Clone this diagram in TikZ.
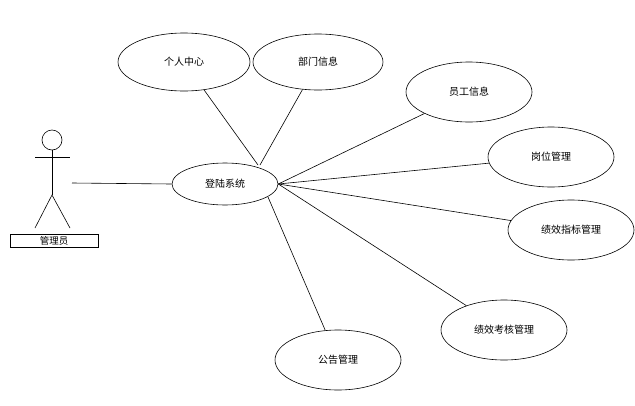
\documentclass[tikz,border=0pt]{standalone}
\usetikzlibrary{shapes.geometric}
\usepackage{fontspec}
\setmainfont{Noto Sans CJK SC}
\begin{document}
\begin{tikzpicture}[x=1pt,y=-1pt,
  uc/.style={draw,ellipse,minimum width=2*#1,minimum height=60pt,inner sep=0pt,font=\fontsize{10pt}{12pt}\selectfont},
  uc/.default=63pt, every path/.style={line width=0.6pt}]
\useasboundingbox (0,0) rectangle (635,405);
\node[uc=66pt,minimum height=58pt] (a) at (184,62) {个人中心};
\node[uc=65pt,minimum height=56pt] (b) at (318,62) {部门信息};
\node[uc] (c) at (469,92) {员工信息};
\node[uc] (d) at (551,157) {岗位管理};
\node[uc] (e) at (571,230) {绩效指标管理};
\node[uc] (f) at (504,330) {绩效考核管理};
\node[uc] (g) at (338,360) {公告管理};
\node[uc=53pt,minimum height=42pt] (s) at (225,184) {登陆系统};
\node[draw,circle,minimum size=20pt,inner sep=0pt] (h) at (52,140) {};
\coordinate (n) at (52,150);
\coordinate (w) at (52,195);
\draw (n) -- (w);
\coordinate (la) at (35,157); \coordinate (ra) at (70,157);
\draw (la) -- (ra);
\coordinate (ll) at (35,228); \coordinate (rl) at (70,228);
\draw (ll) -- (w) -- (rl);
\node[draw,minimum width=88pt,minimum height=13pt,inner sep=0pt,font=\fontsize{9.5pt}{11pt}\selectfont] (lbl) at (54,241) {管理员};
\coordinate (act) at (72,183);
\draw (act) -- (s.west);
\coordinate (sa) at (258,165); \coordinate (sb) at (260,165);
\coordinate (sg) at (268,197);
\draw (sa) -- (a); \draw (sb) -- (b);
\foreach \t in {c,d,e,f} \draw (s.east) -- (\t);
\draw (sg) -- (g);
\end{tikzpicture}
\end{document}
